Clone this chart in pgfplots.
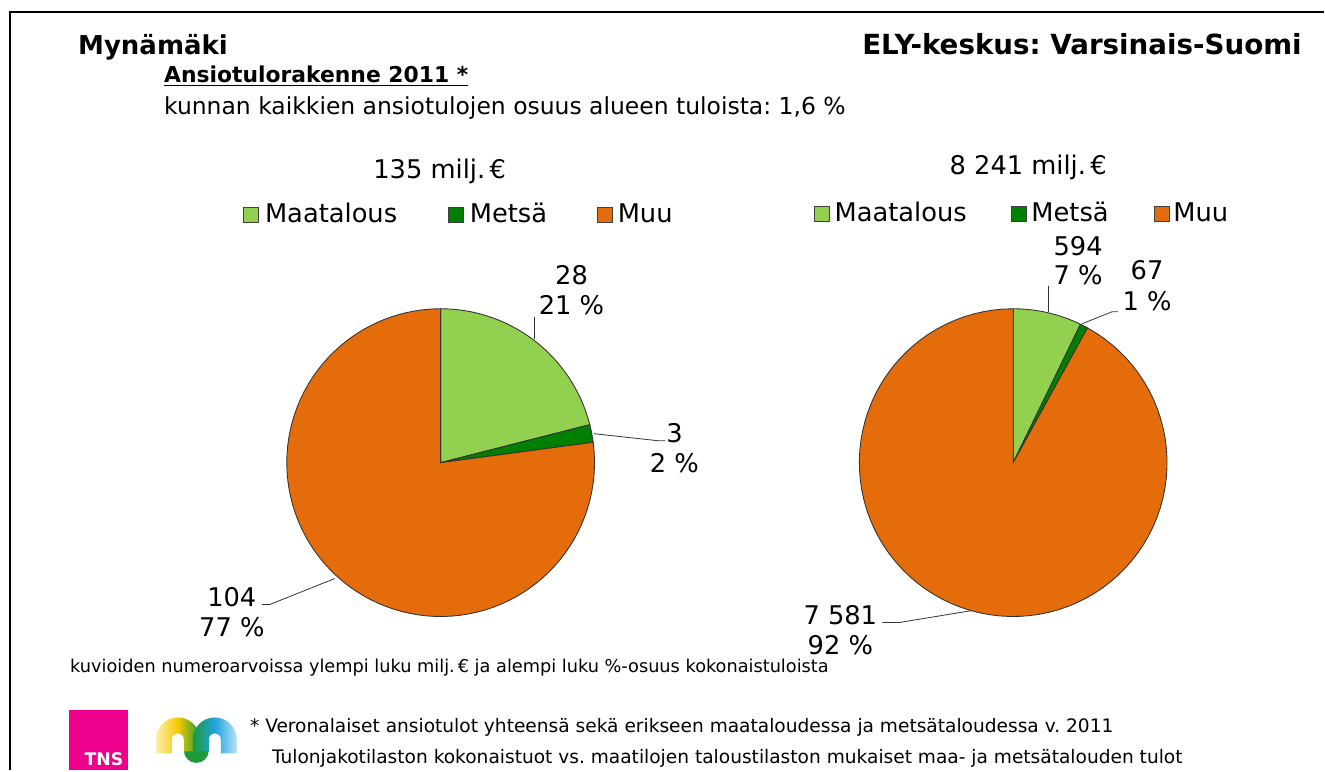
\documentclass[border=0pt]{standalone}
\usepackage{fontspec}
\setmainfont{DejaVu Sans}
\usepackage{pgfplots}
\pgfplotsset{compat=1.18}
\usepackage{pgfplotstable}
\definecolor{maa}{HTML}{92D050}
\definecolor{mets}{HTML}{008000}
\definecolor{muu}{HTML}{E46C0A}
\definecolor{tnspink}{HTML}{EC008C}
\definecolor{logoY}{HTML}{F7C900}
\definecolor{logoG}{HTML}{1E9A3A}
\definecolor{logoB}{HTML}{1FA3E0}

% income (milj. EUR): municipality (kunta) and region (alue)
\pgfplotstableread{
sektori   kunta  alue
Maatalous 28.4   594
Metsa     2.5    67
Muu       104.1  7581
}\datatable

\pgfplotstablegetelem{0}{kunta}\of\datatable \let\kA\pgfplotsretval
\pgfplotstablegetelem{1}{kunta}\of\datatable \let\kB\pgfplotsretval
\pgfplotstablegetelem{2}{kunta}\of\datatable \let\kC\pgfplotsretval
\pgfplotstablegetelem{0}{alue}\of\datatable \let\aA\pgfplotsretval
\pgfplotstablegetelem{1}{alue}\of\datatable \let\aB\pgfplotsretval
\pgfplotstablegetelem{2}{alue}\of\datatable \let\aC\pgfplotsretval
\pgfmathsetmacro\kT{\kA+\kB+\kC}
\pgfmathsetmacro\kAngA{\kA/\kT*360}
\pgfmathsetmacro\kAngB{(\kA+\kB)/\kT*360}
\pgfmathsetmacro\aT{\aA+\aB+\aC}
\pgfmathsetmacro\aAngA{\aA/\aT*360}
\pgfmathsetmacro\aAngB{(\aA+\aB)/\aT*360}

% pie slice: cx, cy, start angle, end angle, colour (clockwise from top, y axis points down)
\newcommand\slice[5]{%
  \addplot[draw=black!80, line width=0.65pt, fill=#5, domain=#3:#4, samples=90, variable=\t]
    ({#1+154*sin(\t)},{#2-154*cos(\t)}) -- (axis cs:#1,#2) -- cycle;}

\newcommand\fchart{\fontsize{19.3}{22}\selectfont}
\begin{document}
\frenchspacing
\begin{tikzpicture}
\begin{axis}[
  width=993.75pt, height=578.25pt, scale only axis,
  xmin=0, xmax=1325, ymin=0, ymax=771, y dir=reverse,
  hide axis, clip=false]
\path (axis cs:0,0) rectangle (axis cs:1325,771);
% frame
\draw[black, line width=1.6pt] (axis cs:10,771) -- (axis cs:10,12) -- (axis cs:1325,12);

% headings
\node[anchor=base west, inner sep=0pt, font=\fontsize{19.5}{22}\selectfont\bfseries] at (axis cs:78,55) {Mynämäki};
\node[anchor=base east, inner sep=0pt, font=\fontsize{20.8}{22}\selectfont\bfseries] at (axis cs:1303,55) {ELY-keskus: Varsinais-Suomi};
\node[anchor=base west, inner sep=0pt, font=\fontsize{16.4}{20}\selectfont\bfseries] at (axis cs:164,83) {\underline{Ansiotulorakenne 2011 *}};
\node[anchor=base west, inner sep=0pt, font=\fontsize{17.6}{20}\selectfont] at (axis cs:164,115) {kunnan kaikkien ansiotulojen osuus alueen tuloista: 1,6 \%};

% pie titles
\node[anchor=base, inner sep=0pt, font=\fchart] at (axis cs:440,179) {135 milj.\,€};
\node[anchor=base, inner sep=0pt, font=\fchart] at (axis cs:1029,175) {8 241 milj.\,€};

% legends
\foreach \x/\c in {244/maa,449/mets,598/muu}{
  \edef\tmp{\noexpand\draw[fill=\c, draw=black!75, line width=0.6pt] (axis cs:\x,208) rectangle (axis cs:\x+15,223);}\tmp}
\node[anchor=base west, inner sep=0pt, font=\fchart] at (axis cs:265,223) {Maatalous};
\node[anchor=base west, inner sep=0pt, font=\fchart] at (axis cs:470,223) {Metsä};
\node[anchor=base west, inner sep=0pt, font=\fchart] at (axis cs:618,223) {Muu};
\foreach \x/\c in {815/maa,1012/mets,1155/muu}{
  \edef\tmp{\noexpand\draw[fill=\c, draw=black!75, line width=0.6pt] (axis cs:\x,207) rectangle (axis cs:\x+15,222);}\tmp}
\node[anchor=base west, inner sep=0pt, font=\fchart] at (axis cs:835,222) {Maatalous};
\node[anchor=base west, inner sep=0pt, font=\fchart] at (axis cs:1032,222) {Metsä};
\node[anchor=base west, inner sep=0pt, font=\fchart] at (axis cs:1174,222) {Muu};

% pies
\slice{441}{463}{0}{\kAngA}{maa}
\slice{441}{463}{\kAngA}{\kAngB}{mets}
\slice{441}{463}{\kAngB}{360}{muu}
\slice{1014}{463}{0}{\aAngA}{maa}
\slice{1014}{463}{\aAngA}{\aAngB}{mets}
\slice{1014}{463}{\aAngB}{360}{muu}

% leader lines
\addplot[black!80, line width=0.6pt] coordinates {(535,339) (535,317)};
\addplot[black!80, line width=0.6pt] coordinates {(594,434) (658,441) (666,441)};
\addplot[black!80, line width=0.6pt] coordinates {(335,579) (270,605) (262,605)};
\addplot[black!80, line width=0.6pt] coordinates {(1049,312) (1049,286)};
\addplot[black!80, line width=0.6pt] coordinates {(1083,324) (1113,312) (1119,312)};
\addplot[black!80, line width=0.6pt] coordinates {(973,611) (900,623) (883,623)};

% data labels
\node[anchor=base, inner sep=0pt, font=\fchart] at (axis cs:572,285) {28};
\node[anchor=base, inner sep=0pt, font=\fchart] at (axis cs:572,315) {21 \%};
\node[anchor=base, inner sep=0pt, font=\fchart] at (axis cs:675,443) {3};
\node[anchor=base, inner sep=0pt, font=\fchart] at (axis cs:675,473) {2 \%};
\node[anchor=base, inner sep=0pt, font=\fchart] at (axis cs:232,607) {104};
\node[anchor=base, inner sep=0pt, font=\fchart] at (axis cs:232,637) {77 \%};
\node[anchor=base, inner sep=0pt, font=\fchart] at (axis cs:1079,256) {594};
\node[anchor=base, inner sep=0pt, font=\fchart] at (axis cs:1079,285) {7 \%};
\node[anchor=base, inner sep=0pt, font=\fchart] at (axis cs:1148,280) {67};
\node[anchor=base, inner sep=0pt, font=\fchart] at (axis cs:1148,311) {1 \%};
\node[anchor=base, inner sep=0pt, font=\fchart] at (axis cs:841,625) {7 581};
\node[anchor=base, inner sep=0pt, font=\fchart] at (axis cs:841,655) {92 \%};

% notes
\node[anchor=base west, inner sep=0pt, font=\fontsize{13.3}{15}\selectfont] at (axis cs:70,673) {kuvioiden numeroarvoissa ylempi luku milj.\,€ ja alempi luku \%-osuus kokonaistuloista};
\node[anchor=base west, inner sep=0pt, font=\fontsize{13.95}{16}\selectfont] at (axis cs:250,733) {* Veronalaiset ansiotulot yhteensä sekä erikseen maataloudessa ja metsätaloudessa v. 2011};
\node[anchor=base west, inner sep=0pt, font=\fontsize{13.95}{16}\selectfont] at (axis cs:272,764) {Tulonjakotilaston kokonaistuot vs. maatilojen taloustilaston mukaiset maa- ja metsätalouden tulot};

% logos
\fill[tnspink] (axis cs:69,711) rectangle (axis cs:128,771);
\node[anchor=base, inner sep=0pt, text=white, font=\fontsize{13}{13}\selectfont\bfseries] at (axis cs:104,766) {TNS};
\fill[logoG] (axis cs:184,751) arc[start angle=180, end angle=360, radius=12.5*0.75pt] -- cycle;
\shade[left color=logoY!30, right color=logoG, middle color=logoY] (axis cs:156,754) -- (axis cs:156,740) arc[start angle=180, end angle=0, radius=22*0.75pt] -- (axis cs:200,752) -- (axis cs:184,752) -- (axis cs:184,740) arc[start angle=0, end angle=180, radius=6*0.75pt] -- (axis cs:172,754) -- cycle;
\shade[left color=logoG, right color=logoB!30, middle color=logoB] (axis cs:193,752) -- (axis cs:193,740) arc[start angle=180, end angle=0, radius=22*0.75pt] -- (axis cs:237,754) -- (axis cs:221,754) -- (axis cs:221,740) arc[start angle=0, end angle=180, radius=6*0.75pt] -- (axis cs:209,752) -- cycle;
\end{axis}
\end{tikzpicture}
\end{document}
